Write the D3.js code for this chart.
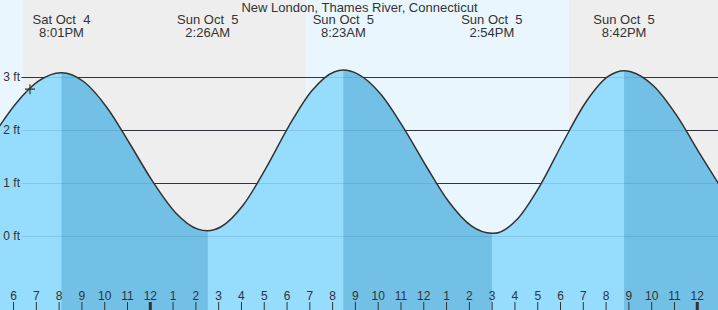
<!DOCTYPE html>
<html>
<head>
<meta charset="utf-8">
<script src="https://cdn.jsdelivr.net/npm/d3@7"></script>
<style>
  html, body { margin: 0; padding: 0; background: #fff; }
  svg { display: block; font-family: "Liberation Sans", Arial, sans-serif; }
  text { white-space: pre; }
</style>
</head>
<body>
<svg id="chart" width="718" height="310"></svg>
<script>
// ---- data ----
const title = "New London, Thames River, Connecticut";
const hourlyStart = "2025-10-04T17:00";
const hourlyHeights = [1.88, 2.49, 2.92, 3.08, 2.91, 2.43, 1.75, 1.04, 0.45, 0.13,
  0.17, 0.59, 1.29, 2.08, 2.74, 3.10, 3.06, 2.69, 2.06, 1.33, 0.65, 0.19,
  0.05, 0.31, 0.94, 1.75, 2.51, 3.01, 3.10, 2.83, 2.28, 1.57, 0.88];
const extremeTimes = ["2025-10-04T20:01", "2025-10-05T02:26", "2025-10-05T08:23", "2025-10-05T14:54", "2025-10-05T20:42"];
const extremeHeights = [3.08, 0.10, 3.13, 0.05, 3.12];
const extremeTypes = ["H", "L", "H", "L", "H"];
const extremeDayLabels = ["Sat Oct  4", "Sun Oct  5", "Sun Oct  5", "Sun Oct  5", "Sun Oct  5"];
const extremeTimeLabels = ["8:01PM", "2:26AM", "8:23AM", "2:54PM", "8:42PM"];
const sunTimes = ["2025-10-04T18:20", "2025-10-05T06:45", "2025-10-05T18:17"]; // sunset, sunrise, sunset
const yTicks = [0, 1, 2, 3];
const yTickLabels = ["0 ft", "1 ft", "2 ft", "3 ft"];
const nowTime = "2025-10-04T18:38";
const nowHeight = 2.77;

// ---- setup ----
const W = 718, H = 310;
const parse = d3.timeParse("%Y-%m-%dT%H:%M");
const svg = d3.select("#chart");

const t0 = parse("2025-10-04T17:00"), t1 = parse("2025-10-06T01:00");
const x = d3.scaleTime().domain([t0, t1]).range([-7.23, 722.05]);
const y = d3.scaleLinear().domain([0, 3]).range([236, 77]);

const hourly = hourlyHeights.map((v, i) => ({ t: d3.timeHour.offset(parse(hourlyStart), i), v }));
const extremes = extremeTimes.map((s, i) => ({ t: parse(s), v: extremeHeights[i], type: extremeTypes[i], d: extremeDayLabels[i], tl: extremeTimeLabels[i] }));
const series = hourly.concat(extremes.map(e => ({ t: e.t, v: e.v }))).sort((a, b) => a.t - b.t);

const C = {
  day: "#eaf6fe", night: "#eeeeee", water: "#95dcfd", waterDark: "#72c0e6",
  ink: "#333333"
};

// ---- background day/night ----
const sun = sunTimes.map(parse);
const bounds = [t0].concat(sun, [t1]);
for (let i = 0; i < bounds.length - 1; i++) {
  svg.append("rect")
    .attr("x", x(bounds[i])).attr("y", 0)
    .attr("width", x(bounds[i + 1]) - x(bounds[i])).attr("height", H)
    .attr("fill", i % 2 === 0 ? C.day : C.night);
}

// ---- grid lines (above water: dark) ----
const gridX0 = 21.5;
svg.append("g").selectAll("line").data(yTicks).join("line")
  .attr("x1", gridX0).attr("x2", W)
  .attr("y1", d => Math.round(y(d)) + 0.5).attr("y2", d => Math.round(y(d)) + 0.5)
  .attr("stroke", C.ink).attr("stroke-width", 1);

// ---- water area ----
const area = d3.area().x(d => x(d.t)).y0(H).y1(d => y(d.v)).curve(d3.curveMonotoneX);
const line = d3.line().x(d => x(d.t)).y(d => y(d.v)).curve(d3.curveMonotoneX);

svg.append("path").datum(series).attr("d", area).attr("fill", C.water);

// falling-tide intervals
const falling = [];
extremes.forEach((e, i) => {
  if (e.type === "H") {
    const next = extremes[i + 1];
    falling.push([e.t, next ? next.t : t1]);
  }
});
const clip = svg.append("clipPath").attr("id", "fallClip");
clip.selectAll("rect").data(falling).join("rect")
  .attr("x", d => x(d[0])).attr("y", 0)
  .attr("width", d => x(d[1]) - x(d[0])).attr("height", H);
svg.append("path").datum(series).attr("d", area)
  .attr("fill", C.waterDark).attr("clip-path", "url(#fallClip)");

// grid lines under water (faint)
svg.append("g").selectAll("line").data(yTicks).join("line")
  .attr("x1", gridX0).attr("x2", W)
  .attr("y1", d => Math.round(y(d)) + 0.5).attr("y2", d => Math.round(y(d)) + 0.5)
  .attr("stroke", "#1a4a6a").attr("stroke-opacity", 0.14).attr("stroke-width", 1);

// curve
svg.append("path").datum(series).attr("d", line)
  .attr("fill", "none").attr("stroke", C.ink).attr("stroke-width", 1.5);

// ---- y labels ----
svg.append("g").selectAll("text").data(yTicks).join("text")
  .attr("x", 20).attr("y", d => y(d) + 4)
  .attr("text-anchor", "end").attr("font-size", 12).attr("fill", C.ink)
  .text((d, i) => yTickLabels[i]);

// ---- title ----
svg.append("text").attr("x", 359.5).attr("y", 12)
  .attr("text-anchor", "middle").attr("font-size", 13).attr("fill", C.ink)
  .text(title);

// ---- extreme labels ----
const lab = svg.append("g").selectAll("g").data(extremes).join("g")
  .attr("transform", d => `translate(${x(d.t)},0)`);
lab.append("text").attr("y", 24).attr("text-anchor", "middle").attr("font-size", 13).attr("fill", C.ink).text(d => d.d);
lab.append("text").attr("y", 36.5).attr("text-anchor", "middle").attr("font-size", 13).attr("fill", C.ink).text(d => d.tl);

// ---- hour ticks ----
const tickOffset = -2;
const hours = d3.timeHour.range(t0, t1).filter(d => {
  const px = x(d) + tickOffset;
  return px >= 0 && px <= W;
});
const tg = svg.append("g").selectAll("g").data(hours).join("g")
  .attr("transform", d => `translate(${x(d) + tickOffset},0)`);
tg.append("line")
  .attr("x1", 0).attr("x2", 0).attr("y1", 302).attr("y2", H)
  .attr("stroke", C.ink)
  .attr("stroke-width", d => d.getHours() === 0 ? 3 : 1);
tg.append("text").attr("y", 300).attr("text-anchor", "middle")
  .attr("font-size", 12).attr("fill", C.ink)
  .text(d => { const h = d.getHours() % 12; return h === 0 ? "12" : String(h); });

// ---- current time marker ----
const nx = x(parse(nowTime)), ny = y(nowHeight);
svg.append("path").attr("d", `M${nx - 5},${ny}H${nx + 5}M${nx},${ny - 5}V${ny + 5}`)
  .attr("stroke", C.ink).attr("stroke-width", 1.2).attr("fill", "none");
</script>
</body>
</html>
